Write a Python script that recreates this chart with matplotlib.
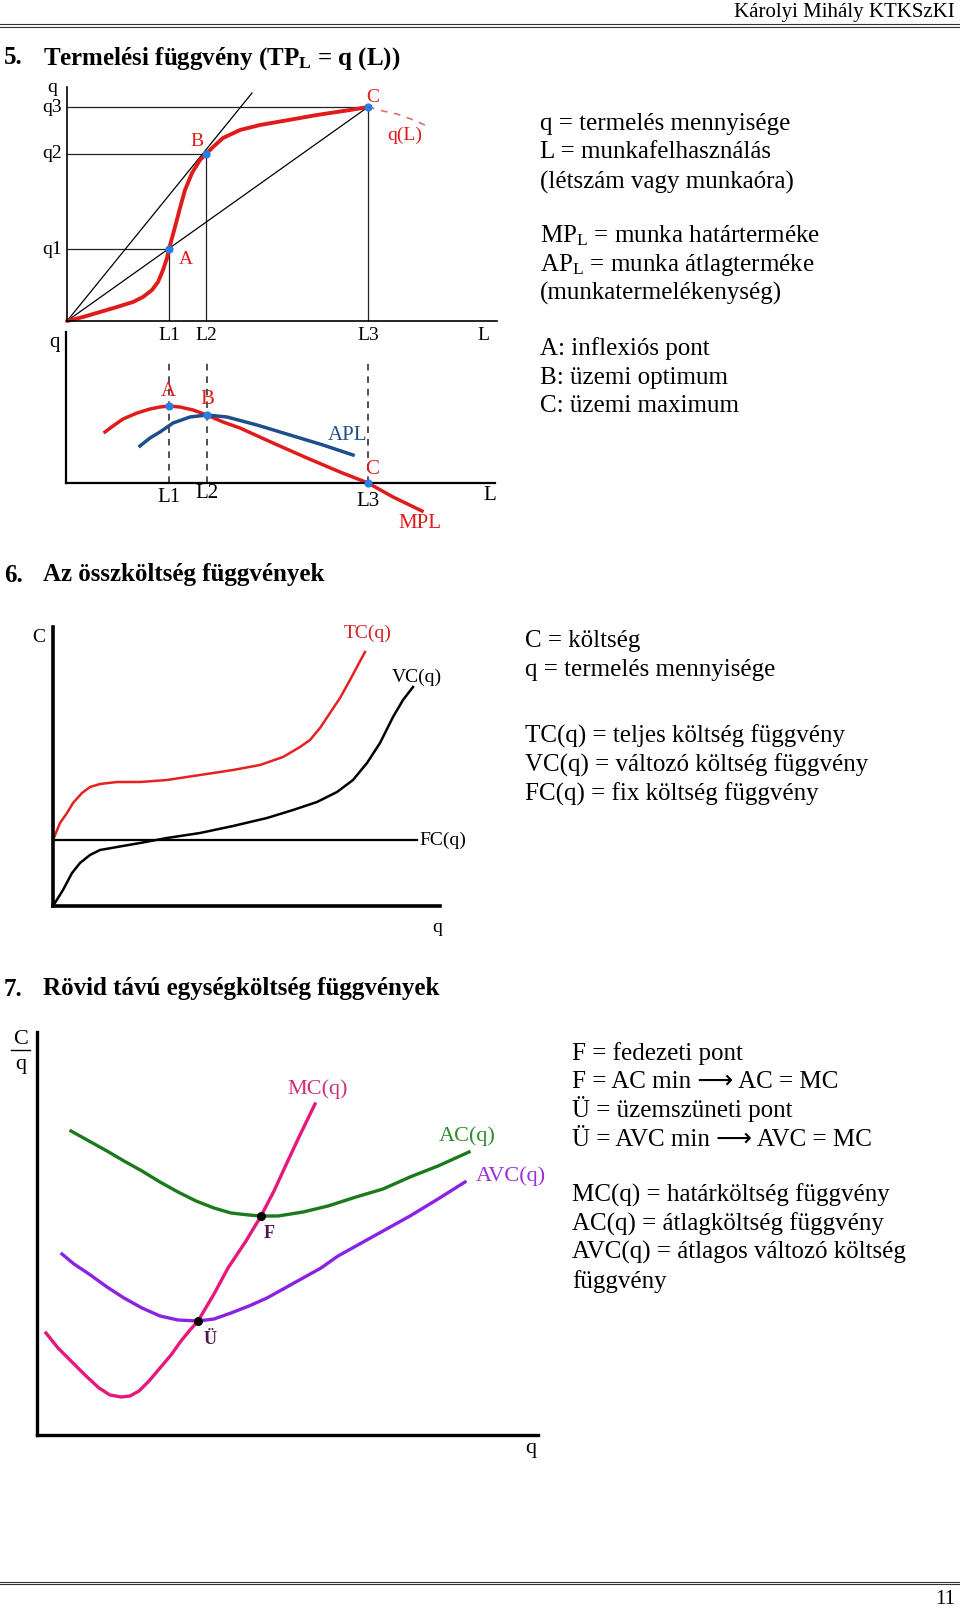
import matplotlib
matplotlib.use('Agg')
import matplotlib.pyplot as plt

plt.rcParams['font.family'] = ['Liberation Serif', 'DejaVu Serif']
plt.rcParams['mathtext.fontset'] = 'custom'
plt.rcParams['mathtext.rm'] = 'Liberation Serif'
plt.rcParams['mathtext.bf'] = 'Liberation Serif:bold'
plt.rcParams['mathtext.it'] = 'Liberation Serif:italic'

# 5. production function q(L) (arbitrary units)
tp_L = [0, 16, 33, 50, 66, 76, 85, 91, 96, 100, 102, 105, 108, 113, 118, 125, 133, 139,
        146, 156, 173, 193, 216, 250, 283, 301]
tp_q = [0, 4, 9, 14, 19, 24, 31, 39, 51, 63, 72, 83, 94, 113, 131, 148, 161, 167,
        174, 183, 191, 196, 200, 206, 211, 214]
tail_L = [301, 316, 330, 344, 358]
tail_q = [214, 210, 207, 202, 196]
pts_L = [102, 139, 301]          # L1, L2, L3 (A, B, C)
pts_q = [72, 167, 214]           # q1, q2, q3
tangent_L = [0, 185]
tangent_q = [0, 228]

# marginal / average product
mpl_L = [39, 47, 57, 71, 84, 94, 103, 114, 127, 141, 157, 174, 207, 241, 274, 302, 327, 356]
mpl_v = [51, 57, 64, 70, 74, 76, 77, 76, 73, 68, 61, 55, 40, 25, 11, 0, -14, -28]
apl_L = [74, 84, 94, 107, 124, 141, 161, 191, 224, 257, 287]
apl_v = [37, 45, 51, 60, 66, 68, 66, 58, 48, 38, 28]
mp_pts_L = [103, 141, 302]
mp_pts_v = [77, 68, 0]

# 6. total cost functions
tc_q = [0, 7, 14, 20, 29, 37, 47, 64, 87, 114, 147, 180, 207, 230, 247, 257, 267, 277,
        287, 297, 305, 312]
tc_c = [66, 83, 93, 103, 113, 119, 122, 124, 124, 126, 131, 136, 141, 149, 159, 166,
        178, 193, 208, 226, 241, 254]
vc_q = [0, 10, 19, 27, 37, 47, 64, 87, 114, 147, 180, 214, 240, 264, 284, 300, 314,
        327, 340, 350, 360]
vc_c = [0, 16, 33, 43, 51, 56, 59, 63, 68, 73, 80, 88, 96, 104, 114, 126, 143, 163,
        189, 206, 219]
fc_level = 66
fc_end = 364

# 7. unit cost functions
mc_q = [9, 21, 34, 48, 62, 73, 84, 93, 102, 112, 123, 134, 144, 153, 161, 177, 191,
        209, 224, 237, 248, 262, 278]
mc_c = [102, 87, 74, 60, 47, 40, 38, 39, 44, 54, 67, 80, 94, 105, 114, 141, 167,
        194, 219, 244, 268, 298, 331]
ac_q = [34, 52, 70, 87, 105, 123, 141, 159, 177, 194, 212, 224, 241, 266, 291, 319,
        346, 373, 401, 432]
ac_c = [304, 294, 284, 274, 264, 253, 243, 234, 227, 222, 220, 219, 219, 223, 229,
        238, 246, 258, 269, 283]
avc_q = [25, 37, 52, 70, 87, 105, 123, 141, 161, 177, 194, 212, 230, 248, 266, 284,
         301, 319, 346, 373, 401, 428]
avc_c = [181, 171, 161, 148, 137, 127, 119, 115, 114, 116, 122, 129, 137, 147, 157,
         167, 179, 189, 204, 219, 236, 253]
f_point = (224, 219)
u_point = (161, 114)

W, H = 960, 1613
fig = plt.figure(figsize=(W / 100, H / 100), dpi=100)
page = fig.add_axes([0, 0, 1, 1])
page.set_xlim(0, W)
page.set_ylim(H, 0)
page.axis('off')


def diagram(ox, oy, w, h, lw):
    ax = fig.add_axes([ox / W, (H - oy) / H, w / W, h / H])
    ax.set_xlim(0, w)
    ax.set_ylim(0, h)
    ax.patch.set_alpha(0)
    for s in ('top', 'right'):
        ax.spines[s].set_visible(False)
    for s in ('left', 'bottom'):
        ax.spines[s].set_linewidth(lw)
    ax.set_xticks([])
    ax.set_yticks([])
    return ax


# header / footer
page.text(955, 17, 'Károlyi Mihály KTKSzKI', ha='right', va='baseline', fontsize=15)
for y in (24, 26.5):
    page.plot([0, W], [y, y], color='#333333', lw=0.8)
for y in (1581.5, 1584):
    page.plot([0, W], [y, y], color='#333333', lw=0.8)
page.text(955, 1604, '11', ha='right', va='baseline', fontsize=15)

# section titles
titles = [(64.5, '5.', 'Termelési függvény (TP$_{\\mathbf{L}}$ = q (L))'),
          (581.5, '6.', 'Az összköltség függvények'),
          (995.5, '7.', 'Rövid távú egységköltség függvények')]
for y, num, txt in titles:
    page.text(4, y, num, fontweight='bold', fontsize=18, va='baseline')
    page.text(43, y, txt, fontweight='bold', fontsize=18, va='baseline')

# explanatory text blocks
block5 = ['q = termelés mennyisége', 'L = munkafelhasználás', '(létszám vagy munkaóra)',
          'MP$_{\\mathrm{L}}$ = munka határterméke', 'AP$_{\\mathrm{L}}$ = munka átlagterméke',
          '(munkatermelékenység)', 'A: inflexiós pont', 'B: üzemi optimum', 'C: üzemi maximum']
block5_y = [130, 158.5, 189, 242, 271.5, 300, 355, 384, 411.5]
block6 = ['C = költség', 'q = termelés mennyisége', 'TC(q) = teljes költség függvény',
          'VC(q) = változó költség függvény', 'FC(q) = fix költség függvény']
block6_y = [646.5, 676, 743, 771.5, 800.5]
block7 = ['F = fedezeti pont', 'F = AC min ⟶ AC = MC', 'Ü = üzemszüneti pont',
          'Ü = AVC min ⟶ AVC = MC', 'MC(q) = határköltség függvény',
          'AC(q) = átlagköltség függvény', 'AVC(q) = átlagos változó költség', 'függvény']
block7_y = [1060, 1088.5, 1117, 1146, 1201.5, 1230.5, 1259, 1288]
for lines, ys, x in ((block5, block5_y, 540), (block6, block6_y, 525), (block7, block7_y, 572)):
    for t, y in zip(lines, ys):
        page.text(x, y, t, fontsize=18, va='baseline',
                  family=['Liberation Serif', 'DejaVu Sans'])

RED = '#e01b1b'
BLUE_DOT = '#2a7de1'

# diagram 1: production function
d1 = diagram(67, 321, 430, 234, 1.2)
for Li, qi in zip(pts_L, pts_q):
    d1.plot([0, Li], [qi, qi], color='#222222', lw=0.9)
    d1.plot([Li, Li], [0, qi], color='#222222', lw=0.9)
d1.plot(tangent_L, tangent_q, color='black', lw=0.9)
d1.plot([0, pts_L[2]], [0, pts_q[2]], color='black', lw=0.9)
d1.plot(tp_L, tp_q, color=RED, lw=2.8, solid_capstyle='round', solid_joinstyle='round',
        clip_on=False)
d1.plot(tail_L, tail_q, color='#e07070', lw=1.2, ls=(0, (4, 4)), clip_on=False)
d1.scatter(pts_L, pts_q, s=24, color=BLUE_DOT, zorder=5, clip_on=False)
lab = dict(fontsize=14, ha='center', va='center')
d1.text(-15, 233, 'q', **lab)
for name, qi in zip(['q1', 'q2', 'q3'], pts_q):
    d1.text(-15, qi, name, **lab)
for name, Li in zip(['L1', 'L2', 'L3'], pts_L):
    d1.text(Li, -14, name, **lab)
d1.text(416, -14, 'L', **lab)
d1.text(119, 61, 'A', color=RED, **lab)
d1.text(130, 179, 'B', color=RED, **lab)
d1.text(306, 224, 'C', color=RED, **lab)
d1.text(338, 186, 'q(L)', color=RED, **lab)

# diagram 2: MPL and APL
d2 = diagram(66, 483, 429, 151, 1.6)
for Li, top in zip(mp_pts_L, [123, 123, 120]):
    d2.plot([Li, Li], [0, top], color='#333333', lw=1.2, ls=(0, (4, 3.5)))
d2.plot(mpl_L, mpl_v, color=RED, lw=2.5, solid_joinstyle='round', clip_on=False)
d2.plot(apl_L, apl_v, color='#1f4e8c', lw=2.5, solid_joinstyle='round')
d2.scatter(mp_pts_L, mp_pts_v, s=24, color=BLUE_DOT, zorder=5, clip_on=False)
lab2 = dict(fontsize=15, ha='center', va='center')
d2.text(-11, 140, 'q', **lab2)
d2.text(103, -14, 'L1', **lab2)
d2.text(141, -11, 'L2', **lab2)
d2.text(302, -19, 'L3', **lab2)
d2.text(424, -12, 'L', **lab2)
d2.text(102, 91, 'A', color=RED, **lab2)
d2.text(141, 83, 'B', color=RED, **lab2)
d2.text(306, 13, 'C', color=RED, **lab2)
d2.text(282, 48, 'APL', color='#1f4e8c', **lab2)
d2.text(354, -41, 'MPL', color=RED, **lab2)

# diagram 3: total costs
d3 = diagram(53, 906, 387, 279, 2.6)
d3.plot([0, fc_end], [fc_level, fc_level], color='black', lw=1.6, clip_on=False)
d3.plot(tc_q, tc_c, color='#e82020', lw=1.8, solid_joinstyle='round')
d3.plot(vc_q, vc_c, color='black', lw=1.8, solid_joinstyle='round')
lab3 = dict(fontsize=14, ha='center', va='center')
d3.text(-14, 268, 'C', **lab3)
d3.text(315, 273, 'TC(q)', color='#d42020', **lab3)
d3.text(364, 229, 'VC(q)', **lab3)
d3.text(366, fc_level, 'FC(q)', fontsize=14, ha='left', va='center')
d3.text(384, -22, 'q', **lab3)

# diagram 4: unit costs
d4 = diagram(37, 1435, 501, 403, 2.4)
d4.plot(ac_q, ac_c, color='#1b7a1b', lw=2.4, solid_joinstyle='round')
d4.plot(avc_q, avc_c, color='#8a22e6', lw=2.4, solid_joinstyle='round')
d4.plot(mc_q, mc_c, color='#e6197a', lw=2.4, solid_joinstyle='round')
d4.scatter([f_point[0], u_point[0]], [f_point[1], u_point[1]], s=30, color='black', zorder=5)
lab4 = dict(fontsize=16, ha='center', va='center')
d4.text(-16, 396, 'C', **lab4)
d4.plot([-26, -7], [385, 385], color='black', lw=1.0, clip_on=False)
d4.text(-16, 371, 'q', **lab4)
d4.text(281, 346, 'MC(q)', color='#cc3377', **lab4)
d4.text(430, 299, 'AC(q)', color='#2e8b2e', **lab4)
d4.text(474, 259, 'AVC(q)', color='#9a30d8', **lab4)
d4.text(232, 202, 'F', color='#4b1a4b', fontweight='bold', fontsize=13, ha='center', va='center')
d4.text(173, 95, 'Ü', color='#4b1a4b', fontweight='bold', fontsize=13, ha='center', va='center')
d4.text(494, -13, 'q', **lab4)

fig.savefig('out.png', dpi=100)
